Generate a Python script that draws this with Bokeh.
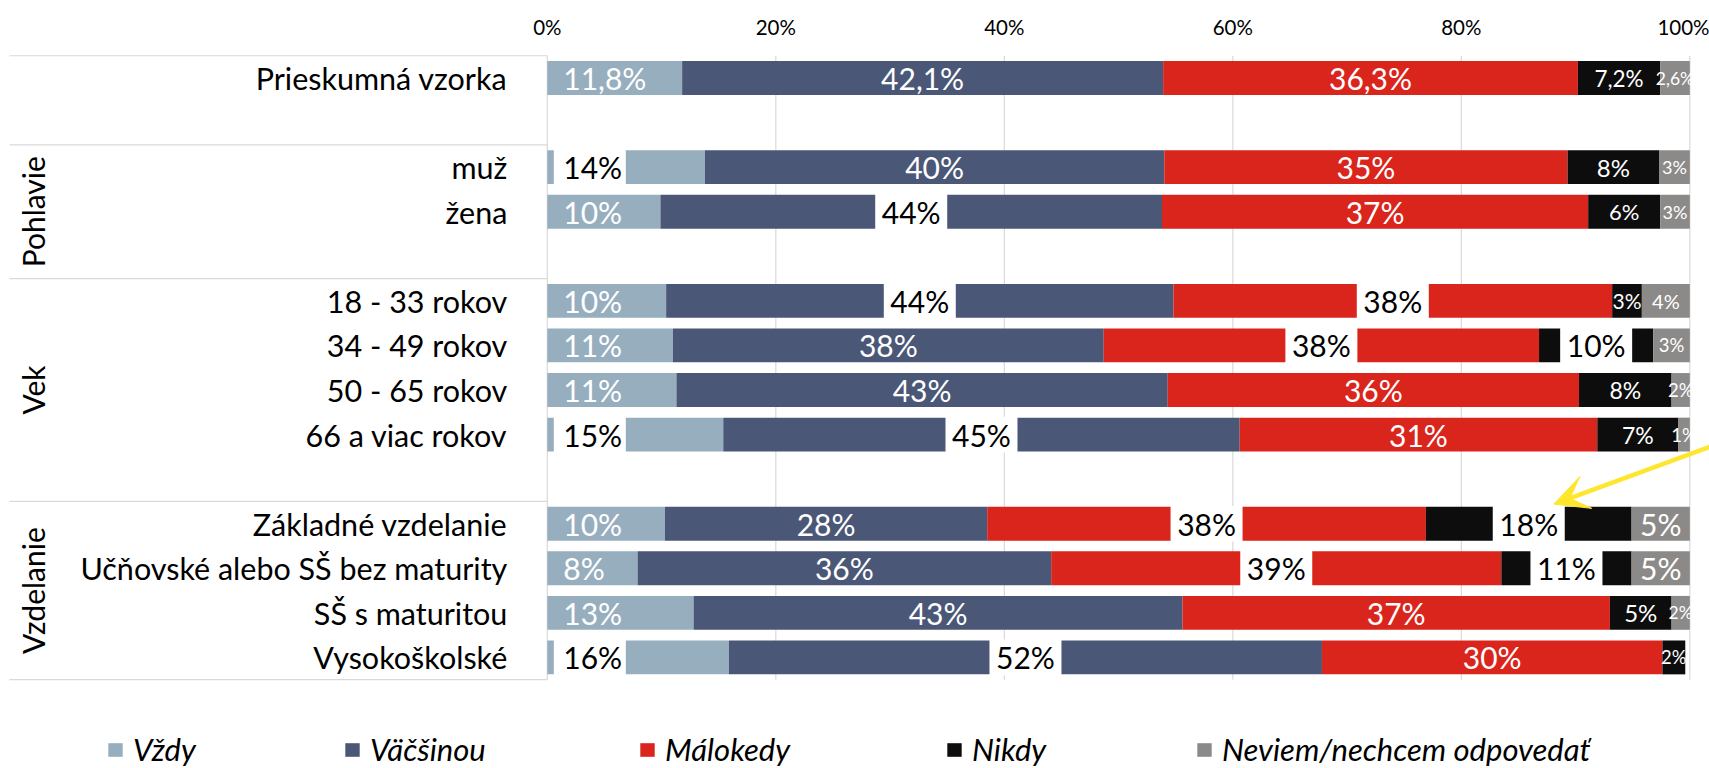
import math
from bokeh.plotting import figure
from bokeh.models import (ColumnDataSource, Range1d, FixedTicker, PrintfTickFormatter,
                          Legend, LegendItem, Arrow, VeeHead)
from bokeh.core.properties import value
from bokeh.embed import file_html
from bokeh.resources import INLINE

# ---------------- data ----------------
series = ["Vždy", "Väčšinou", "Málokedy", "Nikdy", "Neviem/nechcem odpovedať"]
groups = ["", "Pohlavie", "Vek", "Vzdelanie"]
categories = [
    ["Prieskumná vzorka"],
    ["muž", "žena"],
    ["18 - 33 rokov", "34 - 49 rokov", "50 - 65 rokov", "66 a viac rokov"],
    ["Základné vzdelanie", "Učňovské alebo SŠ bez maturity", "SŠ s maturitou", "Vysokoškolské"],
]
vzdy     = [11.8, 13.8,  9.9, 10.4, 11.0, 11.3, 15.4, 10.3,  7.9, 12.8, 15.9]
vacsinou = [42.1, 40.2, 43.9, 44.4, 37.7, 43.0, 45.2, 28.2, 36.2, 42.8, 51.9]
malokedy = [36.3, 35.3, 37.3, 38.4, 38.1, 36.0, 31.3, 38.4, 39.4, 37.4, 29.8]
nikdy    = [ 7.2,  8.0,  6.3,  2.6, 10.0,  8.1,  7.1, 18.0, 11.4,  5.4,  2.0]
neviem   = [ 2.6,  2.7,  2.6,  4.2,  3.2,  1.6,  1.0,  5.1,  5.1,  1.6,  0.0]
label_decimals = [1, 0, 0, 0, 0, 0, 0, 0, 0, 0, 0]
tick_values = [0, 20, 40, 60, 80, 100]

# ---------------- styles ----------------
colors = ["#97aebf", "#4b5777", "#da251d", "#0d0d0d", "#8c8a89"]
FONT = "Lato"
BIG = "30px"
# boxed (black on white) labels: "base" = at bar start, "center" = centered in segment
BOXED = {
    ("muž", "Vždy"): "base",
    ("žena", "Väčšinou"): "center",
    ("18 - 33 rokov", "Väčšinou"): "center",
    ("18 - 33 rokov", "Málokedy"): "center",
    ("34 - 49 rokov", "Málokedy"): "center",
    ("34 - 49 rokov", "Nikdy"): "center",
    ("66 a viac rokov", "Vždy"): "base",
    ("66 a viac rokov", "Väčšinou"): "center",
    ("Základné vzdelanie", "Málokedy"): "center",
    ("Základné vzdelanie", "Nikdy"): "center",
    ("Učňovské alebo SŠ bez maturity", "Málokedy"): "center",
    ("Učňovské alebo SŠ bez maturity", "Nikdy"): "center",
    ("Vysokoškolské", "Vždy"): "base",
    ("Vysokoškolské", "Väčšinou"): "center",
}
LABEL_SIZE = {
    ("Prieskumná vzorka", "Nikdy"): "22.5px",
    ("Prieskumná vzorka", "Neviem/nechcem odpovedať"): "17.5px",
    ("muž", "Nikdy"): "24px",
    ("muž", "Neviem/nechcem odpovedať"): "18px",
    ("žena", "Nikdy"): "22px",
    ("žena", "Neviem/nechcem odpovedať"): "18px",
    ("18 - 33 rokov", "Nikdy"): "21px",
    ("18 - 33 rokov", "Neviem/nechcem odpovedať"): "20px",
    ("34 - 49 rokov", "Neviem/nechcem odpovedať"): "18.5px",
    ("50 - 65 rokov", "Nikdy"): "23px",
    ("50 - 65 rokov", "Neviem/nechcem odpovedať"): "18.5px",
    ("66 a viac rokov", "Nikdy"): "23px",
    ("66 a viac rokov", "Neviem/nechcem odpovedať"): "18.5px",
    ("SŠ s maturitou", "Nikdy"): "24px",
    ("SŠ s maturitou", "Neviem/nechcem odpovedať"): "17.5px",
    ("Vysokoškolské", "Nikdy"): "18.5px",
}

# ---------------- layout ----------------
W, H = 1709, 768
B_TOP = 53
X0, X1 = -47.86, 101.72
PX = (X1 - X0) / W                 # percent per screen pixel
X_TABLE = X0 + 9 * PX              # left end of the table lines
PITCH = 44.57                      # px per row slot

# slot positions: one blank slot after each group except the last
slots, labels_flat, group_first = [], [], []
s = 0
for gi, cats in enumerate(categories):
    if gi > 0:
        s += 1
    group_first.append(s)
    for c in cats:
        slots.append(s)
        labels_flat.append(c)
        s += 1
n_slots = s
Y_TOP = -0.55
Y_BOTTOM = Y_TOP + (H - B_TOP) / PITCH

p = figure(width=W, height=H, output_backend="svg", toolbar_location=None,
           x_range=Range1d(X0, X1), y_range=Range1d(Y_BOTTOM, Y_TOP),
           x_axis_location="above", y_axis_location=None,
           min_border_left=0, min_border_right=0,
           min_border_top=B_TOP, min_border_bottom=0)
p.outline_line_color = None
p.background_fill_color = "white"
p.border_fill_color = "white"

ticker = FixedTicker(ticks=tick_values)
p.xaxis.ticker = ticker
p.xaxis.formatter = PrintfTickFormatter(format="%d%%")
p.xaxis.axis_line_color = None
p.xaxis.major_tick_line_color = None
p.xaxis.minor_tick_line_color = None
p.xaxis.major_label_text_font = FONT
p.xaxis.major_label_text_font_size = "20.5px"
p.xaxis.major_label_text_color = "#000000"
p.xaxis.major_label_standoff = 9
p.xgrid.visible = False
p.ygrid.visible = False

# vertical grid lines (only across the bar area)
p.segment(x0=tick_values, x1=tick_values, y0=[-0.5] * len(tick_values),
          y1=[n_slots - 0.5] * len(tick_values), line_color="#d9d9d9", line_width=1.2)

# table lines on the left (top of each group cell and bottom of the table)
bounds = [g - 0.5 for g in group_first] + [n_slots - 0.5]
p.segment(x0=[X_TABLE] * len(bounds), x1=[0] * len(bounds), y0=bounds, y1=bounds,
          line_color="#d9d9d9", line_width=1.2)

# stacked bars
values = [vzdy, vacsinou, malokedy, nikdy, neviem]
lefts = [0.0] * len(slots)
renderers = []
seg_info = []
for si, name in enumerate(series):
    vals = values[si]
    rights = [l + v for l, v in zip(lefts, vals)]
    src = ColumnDataSource(dict(y=slots, left=lefts, right=rights))
    r = p.hbar(y="y", left="left", right="right", height=0.76, source=src,
               fill_color=colors[si], line_color=None)
    renderers.append(r)
    for ri in range(len(slots)):
        seg_info.append((ri, si, lefts[ri], rights[ri], vals[ri]))
    lefts = rights

# labels
box_x, box_y = [], []
txt = {k: [] for k in ("x", "y", "t", "c", "size", "align", "xoff")}
for ri, si, l, r, v in seg_info:
    if v <= 0:
        continue
    row = labels_flat[ri]
    key = (row, series[si])
    dec = label_decimals[ri]
    t = f"{v:.{dec}f}".replace(".", ",") + "%"
    boxed = BOXED.get(key)
    if si == 0:
        x, align, xoff = l, "left", 16
    else:
        x, align, xoff = (l + r) / 2, "center", 0
    if boxed == "base":
        box_x.append(l + (6.5 + 36) * PX)
        box_y.append(slots[ri])
    elif boxed == "center":
        box_x.append((l + r) / 2)
        box_y.append(slots[ri])
    txt["x"].append(x)
    txt["y"].append(slots[ri])
    txt["t"].append(t)
    txt["c"].append("#000000" if boxed else "#ffffff")
    txt["size"].append(LABEL_SIZE.get(key, BIG))
    txt["align"].append(align)
    txt["xoff"].append(xoff)

p.rect(x=box_x, y=box_y, width=72, width_units="screen", height=0.80,
       fill_color="white", line_color=None)
p.text(x="x", y="y", text="t", source=ColumnDataSource(txt),
       text_color="c", text_font=value(FONT), text_font_size="size",
       text_align="align", text_baseline="middle", x_offset="xoff")

# row labels
p.text(x=[0] * len(slots), y=slots, text=labels_flat, x_offset=-40,
       text_align="right", text_baseline="middle", text_font=value(FONT),
       text_font_size="30.5px", text_color="#000000")

# group labels (rotated, centred in their table cell)
g_names, g_y = [], []
cell_edges = [g - 0.5 for g in group_first] + [n_slots - 0.5]
for gi, g in enumerate(groups):
    if g:
        g_names.append(g)
        g_y.append((cell_edges[gi] + cell_edges[gi + 1]) / 2)
p.text(x=[X_TABLE] * len(g_names), y=g_y, text=g_names, x_offset=23, angle=math.pi / 2,
       text_align="center", text_baseline="middle", text_font=value(FONT),
       text_font_size="30px", text_color="#000000")

# legends (one per item, laid out in a row under the chart)
legend_x = [106, 343, 638, 945, 1195]
for name, r, lx in zip(series, renderers, legend_x):
    lg = Legend(items=[LegendItem(label=name, renderers=[r])], location=(lx, 0),
                orientation="horizontal", padding=0, margin=0, spacing=0,
                glyph_width=18, glyph_height=17, label_standoff=9,
                label_text_font=FONT, label_text_font_size="31px",
                label_text_font_style="italic", label_text_color="#000000",
                border_line_color=None, background_fill_alpha=0)
    p.add_layout(lg)

# yellow arrow
yellow = "#ffe62e"
p.add_layout(Arrow(end=VeeHead(size=34, fill_color=yellow, line_color=yellow),
                   x_start=102.25, y_start=8.23, x_end=88.1, y_end=9.56,
                   line_color=yellow, line_width=4.5))

open("out.html", "w").write(file_html(p, INLINE))
